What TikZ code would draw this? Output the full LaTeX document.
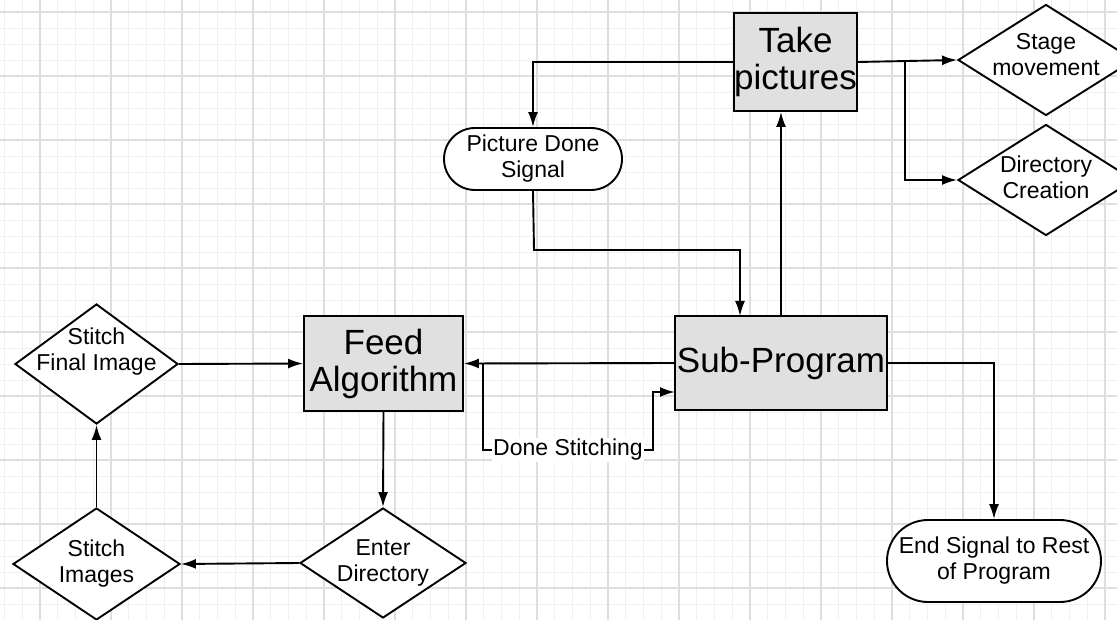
\documentclass[tikz,border=0pt]{standalone}
\usepackage{fontspec}
\setmainfont{Liberation Sans}
\usetikzlibrary{shapes.geometric,shapes.misc,arrows.meta}

\begin{document}
\begin{tikzpicture}[x=1pt, y=-1pt,
    minorgrid/.style={draw=black!6, line width=0.9pt},
    majorgrid/.style={draw=black!13, line width=1.3pt},
    box/.style={rectangle, draw, line width=1.9pt, fill=black!12, inner sep=0pt,
        align=center, font=\fontsize{35}{37}\selectfont},
    decision/.style={diamond, draw, line width=1.9pt, fill=white, inner sep=0pt},
    signal/.style={rounded rectangle, draw, line width=1.9pt, fill=white, inner sep=0pt},
    txt/.style={align=center, font=\fontsize{23}{26}\selectfont},
    flow/.style={-{Latex[length=15pt,width=10pt]}, line width=1.9pt}]
\useasboundingbox (0,0) rectangle (1117,620);
\clip (0,0) rectangle (1117,620);
% Grade
\fill[white] (0,0) rectangle (1117,620);
\foreach \k in {0,...,62}
    \draw[minorgrid] ({4.5+17.75*\k},0) -- ++(0,620);
\foreach \k in {0,...,39}
    \draw[minorgrid] (0,{-4+16*\k}) -- ++(1117,0);
\foreach \k in {0,...,15}
    \draw[majorgrid] ({40+71*\k},0) -- ++(0,620);
\foreach \k in {0,...,9}
    \draw[majorgrid] (0,{12+64*\k}) -- ++(1117,0);
% Caixas principais
\node[box, minimum width=115pt, minimum height=98pt] (take) at (795.5,62) {Take\\pictures};
\node[box, minimum width=212pt, minimum height=94pt] (sub) at (781,363) {Sub-Program};
\node[box, minimum width=159pt, minimum height=95pt] (feed) at (383.5,363.5) {Feed\\Algorithm};
% Losangos
\node[decision, minimum width=176pt, minimum height=111pt,
    label={[txt, yshift=5pt]center:Stage\\movement}] (stage) at (1046,60) {};
\node[decision, minimum width=176pt, minimum height=111pt,
    label={[txt, yshift=3pt]center:Directory\\Creation}] (dircreate) at (1046,180) {};
\node[decision, minimum width=163pt, minimum height=120pt,
    label={[txt, yshift=12pt]center:Stitch\\Final Image}] (final) at (96.5,364) {};
\node[decision, minimum width=167pt, minimum height=112pt,
    label={[txt]center:Stitch\\Images}] (stitch) at (96.5,564) {};
\node[decision, minimum width=166pt, minimum height=110pt,
    label={[txt]center:Enter\\Directory}] (enter) at (383,563) {};
% Sinais
\node[signal, txt, minimum width=178pt, minimum height=62pt] (done) at (533,159) {Picture Done\\Signal};
\node[signal, txt, minimum width=214pt, minimum height=82pt] (endsig) at (994,561) {End Signal to Rest\\of Program};
% Pontos auxiliares
\coordinate (split) at (905,62);
\coordinate (tap) at (483,363);
\coordinate (loopin) at (675,392);
% Conexoes
\draw[flow] (take.east) -- (stage.west);
\draw[flow] (split) |- (dircreate.west);
\draw[flow] (take.west) -| (done.north);
\draw[flow] (done.south) -- (534,250) -| (740,316);
\draw[flow] (sub.north) -- (sub.north |- take.south);
\draw[flow] (sub.west) -- (feed.east);
\draw[flow] (tap) -- (483,450) -- node[txt, fill=white, inner sep=1pt] (stitchlbl) {Done Stitching} (653,450) -- (653,392) -- (loopin);
\draw[flow] (sub.east) -| (endsig.north);
\draw[flow] (feed.south) -- (enter.north);
\draw[flow] (enter.west) -- (stitch.east);
\draw[flow] (stitch.north) -- (final.south);
\draw[flow] (final.east) -- (feed.west);
\end{tikzpicture}
\end{document}
